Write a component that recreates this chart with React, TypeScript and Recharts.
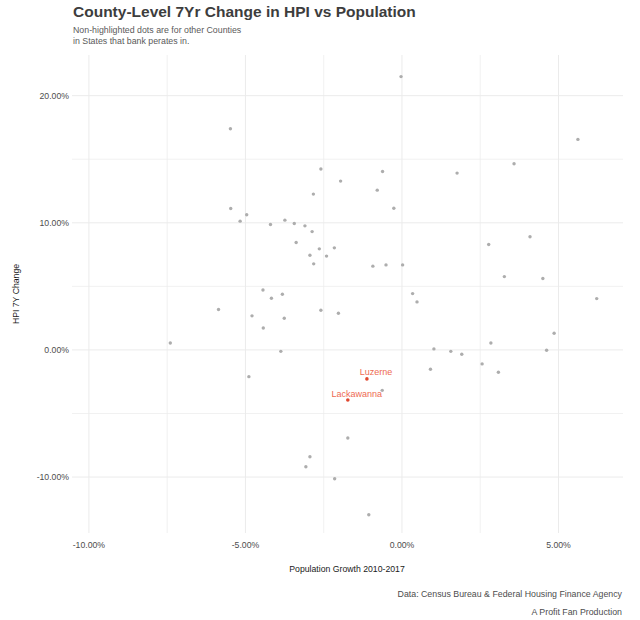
import { ScatterChart, Scatter, XAxis, YAxis, ReferenceLine } from "recharts";

// Other counties (population growth %, HPI 7yr change %)
const popGrowth = [
  -5.48, -2.59, -1.96, -2.83, -5.47, -4.96, -5.17, -4.2, -3.74, -3.44, -3.1, -2.87, -3.38, -2.16, -2.64, -2.94,
  -2.41, -2.82, -4.44, -4.17, -3.82, -0.03, 5.62, 3.58, -0.62, 1.76, -0.79, -0.26, 4.09, 2.77, -0.93, -0.51, 0.02,
  3.27, 4.5, 0.34, 6.22, -5.86, -4.79, -3.76, -4.43, -2.59, -2.03, -7.4, -3.87, -4.89, -1.73, -2.94, -3.07, -2.15,
  0.48, 4.86, 2.84, 1.02, 1.56, 1.91, 4.62, 0.91, 2.56, 3.08, -0.63, -1.06,
];
const hpiChange = [
  17.4, 14.23, 13.28, 12.26, 11.13, 10.63, 10.13, 9.87, 10.21, 9.94, 9.76, 9.31, 8.45, 8.03, 7.95, 7.45, 7.38,
  6.77, 4.72, 4.07, 4.38, 21.5, 16.56, 14.65, 14.04, 13.91, 12.57, 11.15, 8.9, 8.29, 6.59, 6.69, 6.69, 5.77, 5.62,
  4.43, 4.04, 3.18, 2.68, 2.49, 1.73, 3.12, 2.88, 0.55, -0.11, -2.1, -6.93, -8.4, -9.19, -10.13, 3.78, 1.31, 0.55,
  0.08, -0.11, -0.34, -0.03, -1.52, -1.1, -1.76, -3.18, -12.97,
];

// Highlighted counties
const hlNames = ["Luzerne", "Lackawanna"];
const hlPop = [-1.12, -1.73];
const hlHpi = [-2.28, -3.94];

const xTicks = [-10, -7.5, -5, -2.5, 0, 2.5, 5];
const yTicks = [-10, -5, 0, 5, 10, 15, 20];
const xLabelled = [-10, -5, 0, 5];
const yLabelled = [-10, 0, 10, 20];

const others = popGrowth.map((x, i) => ({ x, y: hpiChange[i] }));
const highlighted = hlNames.map((name, i) => ({ name, x: hlPop[i], y: hlHpi[i] }));

const FONT = '"Liberation Sans", Arial, sans-serif';
const GRID = "#ebebeb";
const fmt = (v: number) => v.toFixed(2) + "%";

const GrayDot = (props: any) => <circle cx={props.cx} cy={props.cy} r={1.7} fill="#adadad" />;

const RedDot = (props: any) => (
  <g>
    <circle cx={props.cx} cy={props.cy} r={1.8} fill="#e0472f" />
    <text
      x={props.cx + 9}
      y={props.cy - 3.5}
      textAnchor="middle"
      fontSize={9}
      fill="#ee6a52"
      fontFamily={FONT}
    >
      {props.payload.name}
    </text>
  </g>
);

export default function App() {
  return (
    <div style={{ position: "relative", width: 640, height: 620, fontFamily: FONT, background: "#fff" }}>
      <style>{"body{margin:0}"}</style>
      <ScatterChart width={640} height={620} margin={{ top: 55, right: 17, left: 12, bottom: 57 }}>
        <XAxis
          type="number"
          dataKey="x"
          domain={[-10.54, 7.06]}
          ticks={xTicks}
          allowDataOverflow
          height={30}
          axisLine={false}
          tickLine={false}
          tickSize={0}
          tickMargin={9}
          tick={{ fontSize: 8.7, fill: "#4d4d4d", fontFamily: FONT }}
          tickFormatter={(v: number) => (xLabelled.includes(v) ? fmt(v) : "")}
        />
        <YAxis
          type="number"
          dataKey="y"
          domain={[-14.4, 23.2]}
          ticks={yTicks}
          allowDataOverflow
          width={60}
          axisLine={false}
          tickLine={false}
          tickSize={0}
          tickMargin={3}
          tick={{ fontSize: 8.7, fill: "#4d4d4d", fontFamily: FONT }}
          tickFormatter={(v: number) => (yLabelled.includes(v) ? fmt(v) : "")}
        />
        {xTicks.map((t) => (
          <ReferenceLine key={"vx" + t} x={t} stroke={GRID} strokeWidth={xLabelled.includes(t) ? 1 : 0.7} />
        ))}
        {yTicks.map((t) => (
          <ReferenceLine key={"hy" + t} y={t} stroke={GRID} strokeWidth={yLabelled.includes(t) ? 1 : 0.7} />
        ))}
        <Scatter data={others} shape={GrayDot} isAnimationActive={false} />
        <Scatter data={highlighted} shape={RedDot} isAnimationActive={false} />
      </ScatterChart>

      <div style={{ position: "absolute", left: 73, top: 3, fontSize: 15.5, fontWeight: "bold", color: "#3d3d3d", whiteSpace: "nowrap", lineHeight: "18px" }}>
        County-Level 7Yr Change in HPI vs Population
      </div>
      <div style={{ position: "absolute", left: 73, top: 24.5, fontSize: 8.8, color: "#5a5a5a", lineHeight: "11px", whiteSpace: "nowrap" }}>
        Non-highlighted dots are for other Counties
        <br />
        in States that bank perates in.
      </div>
      <div
        style={{
          position: "absolute",
          left: 16,
          top: 294,
          transform: "translate(-50%, -50%) rotate(-90deg)",
          fontSize: 8.7,
          color: "#1a1a1a",
          whiteSpace: "nowrap",
        }}
      >
        HPI 7Y Change
      </div>
      <div
        style={{
          position: "absolute",
          left: 347,
          top: 569,
          transform: "translate(-50%, -50%)",
          fontSize: 8.7,
          color: "#1a1a1a",
          whiteSpace: "nowrap",
        }}
      >
        Population Growth 2010-2017
      </div>
      <div style={{ position: "absolute", right: 18, top: 585, fontSize: 8.8, color: "#4d4d4d", lineHeight: "18px", textAlign: "right", whiteSpace: "nowrap" }}>
        Data: Census Bureau &amp; Federal Housing Finance Agency
        <br />
        A Profit Fan Production
      </div>
    </div>
  );
}
